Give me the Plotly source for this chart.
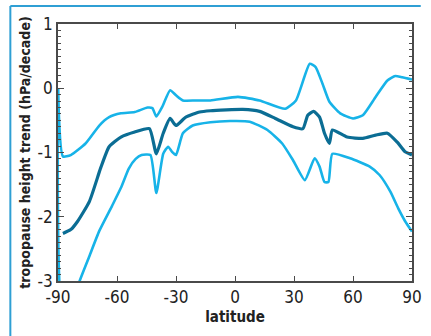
import plotly.graph_objects as go

# Tropopause height trend by latitude: central estimate and its two bounds
upper_lat = [-90, -87.5, -83.5, -76, -69, -64, -58, -51, -44.5, -42, -40, -37, -33, -30,
             -26.5, -20, -12.5, 1.5, 12.5, 25.5, 31, 38, 41, 44.5, 48, 53.5, 60, 65,
             71.5, 77.5, 81.5, 85, 90]
upper_val = [0, -1.06, -1.04, -0.86, -0.58, -0.45, -0.39, -0.37, -0.30, -0.31, -0.44, -0.29,
             -0.03, -0.11, -0.19, -0.19, -0.19, -0.135, -0.19, -0.32, -0.19, 0.38, 0.33,
             0.07, -0.21, -0.39, -0.47, -0.42, -0.135, 0.12, 0.19, 0.17, 0.135]

mid_lat = [-87.5, -83.5, -80, -74, -68.3, -64, -58, -51, -43.5, -40, -36.5, -33, -30, -25,
           -18, -12.5, 4, 12.5, 20.5, 29.5, 34.5, 37, 40, 43, 45.5, 48, 49.5, 57, 65,
           71.5, 77.5, 82.5, 86.5, 90]
mid_val = [-2.26, -2.2, -2.07, -1.76, -1.24, -0.91, -0.76, -0.68, -0.63, -1.02, -0.70,
           -0.47, -0.58, -0.45, -0.37, -0.35, -0.33, -0.36, -0.47, -0.60, -0.63, -0.42,
           -0.36, -0.45, -0.70, -0.86, -0.65, -0.76, -0.78, -0.73, -0.70, -0.84, -0.99,
           -1.04]

lower_lat = [-90, -88, -84, -79, -74, -69, -62.5, -58, -54, -50.5, -47.5, -43, -40, -36.5,
             -34, -32, -30, -26.5, -21.5, -12.5, -2.5, 7.5, 16.5, 24, 29.5, 35.5, 40.5,
             43, 45.5, 47.5, 49.5, 58.5, 68.5, 73.5, 79, 83, 86.5, 90]
lower_val = [0, -3.4, -3.5, -3.0, -2.61, -2.22, -1.83, -1.55, -1.25, -1.1, -1.04, -1.04,
             -1.63, -1.02, -0.91, -0.99, -1.04, -0.70, -0.58, -0.53, -0.51, -0.52, -0.65,
             -0.86, -1.12, -1.43, -1.09, -1.22, -1.46, -1.46, -1.02, -1.09, -1.22, -1.35,
             -1.61, -1.87, -2.07, -2.23]

x_ticks = [-90, -60, -30, 0, 30, 60, 90]
y_ticks = [-3, -2, -1, 0, 1]

LIGHT = "#17b3e8"
DARK = "#0b6d94"
AXIS = "#4a4a4a"
FRAME = "#2f9fd4"
FONT = "DejaVu Sans Condensed, Roboto, sans-serif"

fig = go.Figure()
fig.add_trace(go.Scatter(x=mid_lat, y=mid_val, mode="lines",
                         line=dict(color=DARK, width=3.2, shape="spline", smoothing=0.5)))
fig.add_trace(go.Scatter(x=upper_lat, y=upper_val, mode="lines",
                         line=dict(color=LIGHT, width=2.6, shape="spline", smoothing=0.5)))
fig.add_trace(go.Scatter(x=lower_lat, y=lower_val, mode="lines",
                         line=dict(color=LIGHT, width=2.6, shape="spline", smoothing=0.5)))

fig.update_layout(
    width=431, height=336,
    margin=dict(l=58, r=9, t=24, b=55),
    paper_bgcolor="white", plot_bgcolor="white",
    showlegend=False,
    font=dict(family=FONT, color="#222222"),
)

fig.update_xaxes(
    range=[-90, 90], tickvals=x_ticks, ticktext=[str(v) for v in x_ticks],
    ticks="inside", ticklen=5, tickwidth=1.3, tickcolor=AXIS,
    showline=True, linecolor=AXIS, linewidth=1.5, mirror="ticks",
    showgrid=False, zeroline=False,
    tickfont=dict(family=FONT, size=17, color="#222222"),
    title=dict(text="<b>latitude</b>", font=dict(family=FONT, size=15, color="#222222"),
               standoff=5),
)
fig.update_yaxes(
    range=[-3, 1], tickvals=y_ticks, ticktext=[str(v) for v in y_ticks],
    ticks="inside", ticklen=6, tickwidth=1.3, tickcolor=AXIS,
    minor=dict(dtick=0.1, ticks="inside", ticklen=3, tickwidth=1, tickcolor=AXIS),
    showline=True, linecolor=AXIS, linewidth=1.5, mirror="ticks",
    showgrid=False, zeroline=False,
    tickfont=dict(family=FONT, size=17, color="#222222"),
    title=dict(text="<b>tropopause height trend (hPa/decade)</b>",
               font=dict(family=FONT, size=14, color="#222222"), standoff=4),
)

# light blue frame rules along the top and left edges of the page
fig.add_shape(type="line", xref="paper", yref="paper",
              x0=(9 - 58) / 364, x1=(431 - 58) / 364, y0=(281 - 6) / 257, y1=(281 - 6) / 257,
              line=dict(color=FRAME, width=2))
fig.add_shape(type="line", xref="paper", yref="paper",
              x0=(9 - 58) / 364, x1=(9 - 58) / 364, y0=(281 - 6) / 257, y1=(281 - 340) / 257,
              line=dict(color=FRAME, width=2))

fig.write_html("out.html")
